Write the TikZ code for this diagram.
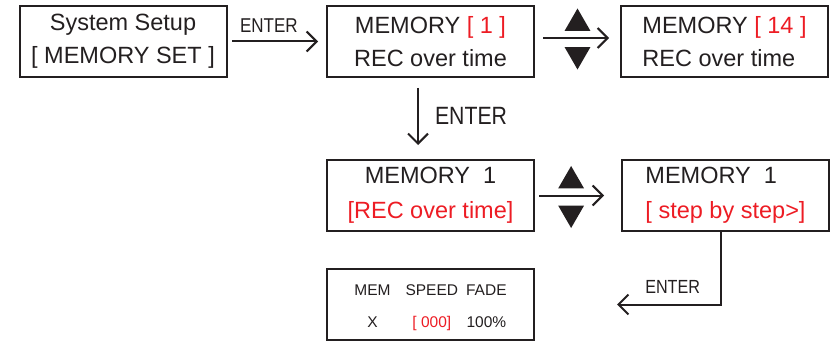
\documentclass[tikz,border=0pt]{standalone}
\usepackage{fontspec}
\setmainfont{Liberation Sans}
\newfontfamily\narrowfont[FakeStretch=0.85]{Liberation Sans}
\usetikzlibrary{arrows.meta,positioning,shapes.geometric}
\definecolor{ink}{RGB}{35,31,32}
\definecolor{lcdred}{RGB}{237,28,36}

\begin{document}
\begin{tikzpicture}[x=1pt,y=1pt,on grid,
   box/.style={draw=ink,line width=2pt,minimum width=207pt,minimum height=71pt,
               inner sep=0pt,text=ink,align=center,font=\fontsize{23.5}{33}\selectfont},
   arr/.style={draw=ink,line width=2pt,-{Straight Barb[length=10pt,width=20pt]}},
   key/.style={text=ink,inner sep=1pt,font=\narrowfont\fontsize{#1}{#1}\selectfont},
   tri/.style={regular polygon,regular polygon sides=3,fill=ink,minimum size=30pt,
               inner sep=0pt,outer sep=0pt}]
   \useasboundingbox (0,0) rectangle (832,-342);
   \node [box] (sys) at (123,-41.5) {System Setup\\{[} MEMORY SET ]};
   \node [box] (mem_1) [right=307.5pt of sys] {MEMORY {\color{lcdred}[ 1 ]}\\REC over time};
   \node [box,align=left] (mem_14) [right=294pt of mem_1] {MEMORY {\color{lcdred}[ 14 ]}\\REC over time};
   \node [box,font=\fontsize{23.5}{35}\selectfont] (rec_1) [below=154pt of mem_1] {MEMORY~~1\\{\color{lcdred}[REC over time]}};
   \node [box,align=left,font=\fontsize{23.5}{35}\selectfont] (step_1) [right=295pt of rec_1] {MEMORY~~1\\{\color{lcdred}[ step by step>]}};
   \node [box,font=\fontsize{15.5}{18}\selectfont] (panel) [below=109pt of rec_1]
      {\begin{tabular}{@{}c@{\hspace{15pt}}c@{\hspace{8pt}}c@{}}
        \rule{0pt}{19pt}MEM & SPEED & FADE\\[13.6pt]
        X & {\color{lcdred}[ 000]} & 100\%
       \end{tabular}};
   \path[every edge/.style=arr]
    (sys) edge [shorten <=4.5pt,shorten >=8pt] node [key=20,above=7pt,pos=0.42] (enter_1) {ENTER} (mem_1)
    ([yshift=3.5pt]mem_1.east) edge [shorten <=8pt,shorten >=11pt]
          node [tri,anchor=south,yshift=7pt] (up_1) {}
          node [tri,shape border rotate=180,anchor=north,yshift=-9pt] (down_1) {} ([yshift=3.5pt]mem_14.west)
    ([xshift=-12.5pt]mem_1.south) edge [shorten <=10pt,shorten >=14pt]
          node [key=25,right=15pt,pos=0.47] (enter_2) {ENTER} ([xshift=-12.5pt]mem_1.south |- rec_1.north)
    (rec_1) edge [shorten <=4pt,shorten >=17pt]
          node [tri,anchor=south,yshift=7pt,pos=0.42] (up_2) {}
          node [tri,shape border rotate=180,anchor=north,yshift=-10pt,pos=0.42] (down_2) {} (step_1);
   \draw[arr,shorten >=82pt] ([xshift=-4.5pt]step_1.south) |- node [key=19,above=9.5pt,pos=0.63] (enter_3) {ENTER} (panel.east);
\end{tikzpicture}
\end{document}
